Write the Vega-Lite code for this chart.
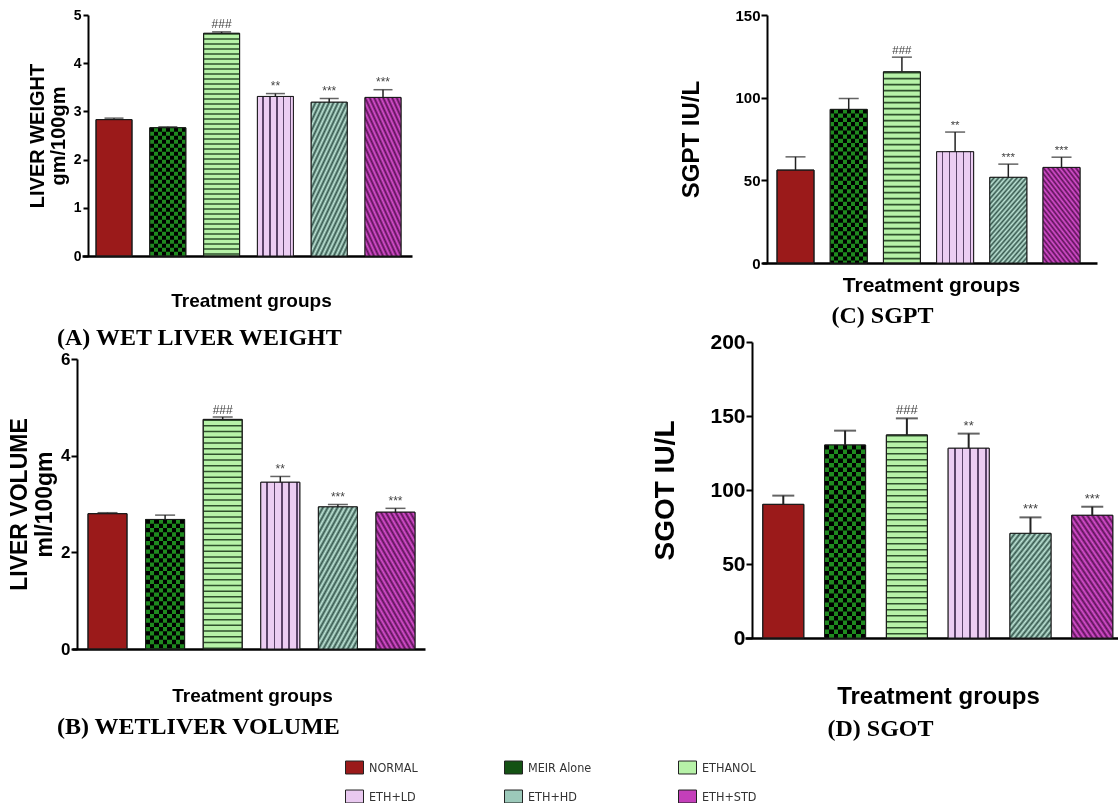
{
  "$schema": "https://vega.github.io/schema/vega-lite/v6.json",
  "background": "white",
  "padding": {"left": 8, "top": 8, "right": 0, "bottom": 0},
  "datasets": {
    "d": [
      {"panel": "A", "group": "NORMAL", "value": 2.83, "hi": 2.86, "sig": ""},
      {"panel": "A", "group": "MEIR Alone", "value": 2.66, "hi": 2.68, "sig": ""},
      {"panel": "A", "group": "ETHANOL", "value": 4.62, "hi": 4.65, "sig": "###"},
      {"panel": "A", "group": "ETH+LD", "value": 3.31, "hi": 3.37, "sig": "**"},
      {"panel": "A", "group": "ETH+HD", "value": 3.19, "hi": 3.27, "sig": "***"},
      {"panel": "A", "group": "ETH+STD", "value": 3.29, "hi": 3.45, "sig": "***"},
      {"panel": "B", "group": "NORMAL", "value": 2.8, "hi": 2.82, "sig": ""},
      {"panel": "B", "group": "MEIR Alone", "value": 2.68, "hi": 2.77, "sig": ""},
      {"panel": "B", "group": "ETHANOL", "value": 4.75, "hi": 4.8, "sig": "###"},
      {"panel": "B", "group": "ETH+LD", "value": 3.45, "hi": 3.57, "sig": "**"},
      {"panel": "B", "group": "ETH+HD", "value": 2.94, "hi": 2.99, "sig": "***"},
      {"panel": "B", "group": "ETH+STD", "value": 2.83, "hi": 2.91, "sig": "***"},
      {"panel": "C", "group": "NORMAL", "value": 56.2, "hi": 64.2, "sig": ""},
      {"panel": "C", "group": "MEIR Alone", "value": 92.9, "hi": 99.5, "sig": ""},
      {"panel": "C", "group": "ETHANOL", "value": 115.6, "hi": 124.5, "sig": "###"},
      {"panel": "C", "group": "ETH+LD", "value": 67.3, "hi": 79.2, "sig": "**"},
      {"panel": "C", "group": "ETH+HD", "value": 51.8, "hi": 59.8, "sig": "***"},
      {"panel": "C", "group": "ETH+STD", "value": 57.8, "hi": 64.0, "sig": "***"},
      {"panel": "D", "group": "NORMAL", "value": 90.3, "hi": 96.2, "sig": ""},
      {"panel": "D", "group": "MEIR Alone", "value": 130.4, "hi": 140.1, "sig": ""},
      {"panel": "D", "group": "ETHANOL", "value": 137.2, "hi": 148.4, "sig": "###"},
      {"panel": "D", "group": "ETH+LD", "value": 128.2, "hi": 138.1, "sig": "**"},
      {"panel": "D", "group": "ETH+HD", "value": 70.7, "hi": 81.5, "sig": "***"},
      {"panel": "D", "group": "ETH+STD", "value": 82.9, "hi": 88.7, "sig": "***"}
    ]
  },
  "data": {"name": "d"},
  "spacing": 226,
  "hconcat": [
    {
      "bounds": "flush",
      "spacing": 103,
      "vconcat": [
        {
          "width": 330, "height": 241,
          "transform": [{"filter": "datum.panel === 'A'"}],
          "title": {"text": "(A)  WET LIVER WEIGHT", "orient": "bottom", "anchor": "start", "frame": "group", "dx": -15, "offset": 26, "font": "Liberation Serif", "fontSize": 24, "fontWeight": "bold", "color": "#000"},
          "encoding": {
            "x": {"field": "group", "type": "nominal", "sort": ["NORMAL", "MEIR Alone", "ETHANOL", "ETH+LD", "ETH+HD", "ETH+STD"], "scale": {"paddingInner": 0.331, "paddingOuter": 0.2325, "align": 0.96}, "axis": {"labels": false, "ticks": false, "domainWidth": 2.5, "translate": 10.5, "offset": -10, "title": "Treatment groups", "titleFontSize": 19, "titlePadding": 35, "titleX": 169}},
            "y": {"field": "value", "type": "quantitative", "scale": {"domain": [0, 5], "nice": false}, "axis": {"values": [0, 1, 2, 3, 4, 5], "offset": -16, "domainWidth": 2, "tickWidth": 2, "tickSize": 5, "labelPadding": 2, "labelFontSize": 14, "title": ["LIVER WEIGHT", "gm/100gm"], "titleFontSize": 20, "titleLineHeight": 21, "titlePadding": 5}}
          },
          "layer": [
            {"mark": {"type": "bar", "stroke": "#1a1a1a", "strokeWidth": 1}, "encoding": {"color": {"field": "group", "type": "nominal", "scale": {"domain": ["NORMAL", "MEIR Alone", "ETHANOL", "ETH+LD", "ETH+HD", "ETH+STD"], "range": ["#9b1a1a", "#145214", "#b7f2a8", "#e9c9f0", "#9cc9ba", "#c43fba"]}, "legend": {"orient": "none", "legendX": 273, "legendY": 743, "direction": "horizontal", "columns": 3, "title": null, "symbolType": "M-1,-0.72H1V0.72H-1Z", "symbolSize": 324, "symbolStrokeColor": "#222", "symbolStrokeWidth": 1, "labelFont": "Liberation Sans Narrow, DejaVu Sans Condensed, Liberation Sans, sans-serif", "labelFontSize": 12.5, "labelColor": "#333", "labelOffset": 5, "columnPadding": 84, "rowPadding": 11, "gridAlign": "each"}}}},
            {"transform": [{"filter": "datum.group === 'MEIR Alone'"}], "mark": {"type": "bar", "fill": "#000"}},
            {"transform": [{"filter": "datum.group === 'MEIR Alone'"}], "mark": {"type": "rule", "stroke": "#1f8a1f", "strokeWidth": 36, "strokeDash": [4, 4], "strokeCap": "butt"}, "encoding": {"y2": {"datum": 0}}},
            {"transform": [{"filter": "datum.group === 'MEIR Alone'"}], "mark": {"type": "bar", "style": "checkv", "blend": "difference"}},
            {"transform": [{"filter": "datum.group === 'ETHANOL'"}], "mark": {"type": "rule", "stroke": "#2f512c", "strokeWidth": 36, "strokeDash": [1.4, 3.6], "strokeCap": "butt"}, "encoding": {"y2": {"datum": 0}}},
            {"transform": [{"filter": "datum.group === 'ETH+LD'"}], "mark": {"type": "bar", "style": "vstripe"}},
            {"transform": [{"filter": "datum.group === 'ETH+HD'"}], "mark": {"type": "bar", "style": "diagHD"}},
            {"transform": [{"filter": "datum.group === 'ETH+STD'"}], "mark": {"type": "bar", "style": "diagSTD"}},
            {"mark": {"type": "bar", "fillOpacity": 0, "stroke": "#1a1a1a", "strokeWidth": 1}},
            {"mark": {"type": "rule", "stroke": "#222", "strokeWidth": 1.5}, "encoding": {"y": {"field": "hi", "type": "quantitative"}, "y2": {"field": "value"}}},
            {"mark": {"type": "tick", "color": "#222", "thickness": 1.5, "size": 19}, "encoding": {"y": {"field": "hi", "type": "quantitative"}}},
            {"mark": {"type": "text", "dy": -3.5, "baseline": "alphabetic", "font": "Liberation Sans", "fontSize": 12, "color": "#444"}, "encoding": {"y": {"field": "hi", "type": "quantitative"}, "text": {"field": "sig"}}}
          ]
        },
        {
          "width": 353, "height": 290,
          "transform": [{"filter": "datum.panel === 'B'"}],
          "title": {"text": "(B)  WETLIVER VOLUME", "orient": "bottom", "anchor": "start", "frame": "group", "dx": -15, "offset": 10, "font": "Liberation Serif", "fontSize": 24, "fontWeight": "bold", "color": "#000"},
          "encoding": {
            "x": {"field": "group", "type": "nominal", "sort": ["NORMAL", "MEIR Alone", "ETHANOL", "ETH+LD", "ETH+HD", "ETH+STD"], "scale": {"paddingInner": 0.323, "paddingOuter": 0.226, "align": 0.615}, "axis": {"labels": false, "ticks": false, "domainWidth": 2.5, "title": "Treatment groups", "titleFontSize": 19, "titlePadding": 37, "titleX": 180}},
            "y": {"field": "value", "type": "quantitative", "scale": {"domain": [0, 6], "nice": false}, "axis": {"values": [0, 2, 4, 6], "offset": -5, "domainWidth": 2, "tickWidth": 2, "tickSize": 6, "labelPadding": 1, "labelFontSize": 17, "title": ["LIVER VOLUME", "ml/100gm"], "titleFontSize": 23, "titleLineHeight": 25, "titlePadding": 4}}
          },
          "layer": [
            {"mark": {"type": "bar", "stroke": "#1a1a1a", "strokeWidth": 1}, "encoding": {"color": {"field": "group", "type": "nominal", "scale": {"domain": ["NORMAL", "MEIR Alone", "ETHANOL", "ETH+LD", "ETH+HD", "ETH+STD"], "range": ["#9b1a1a", "#145214", "#b7f2a8", "#e9c9f0", "#9cc9ba", "#c43fba"]}, "legend": {"orient": "none", "legendX": 273, "legendY": 743, "direction": "horizontal", "columns": 3, "title": null, "symbolType": "M-1,-0.72H1V0.72H-1Z", "symbolSize": 324, "symbolStrokeColor": "#222", "symbolStrokeWidth": 1, "labelFont": "Liberation Sans Narrow, DejaVu Sans Condensed, Liberation Sans, sans-serif", "labelFontSize": 12.5, "labelColor": "#333", "labelOffset": 5, "columnPadding": 84, "rowPadding": 11, "gridAlign": "each"}}}},
            {"transform": [{"filter": "datum.group === 'MEIR Alone'"}], "mark": {"type": "bar", "fill": "#000"}},
            {"transform": [{"filter": "datum.group === 'MEIR Alone'"}], "mark": {"type": "rule", "stroke": "#1f8a1f", "strokeWidth": 39, "strokeDash": [4.3, 4.3], "strokeCap": "butt"}, "encoding": {"y2": {"datum": 0}}},
            {"transform": [{"filter": "datum.group === 'MEIR Alone'"}], "mark": {"type": "bar", "style": "checkv", "blend": "difference"}},
            {"transform": [{"filter": "datum.group === 'ETHANOL'"}], "mark": {"type": "rule", "stroke": "#2f512c", "strokeWidth": 39, "strokeDash": [1.5, 4.2], "strokeCap": "butt"}, "encoding": {"y2": {"datum": 0}}},
            {"transform": [{"filter": "datum.group === 'ETH+LD'"}], "mark": {"type": "bar", "style": "vstripe"}},
            {"transform": [{"filter": "datum.group === 'ETH+HD'"}], "mark": {"type": "bar", "style": "diagHD"}},
            {"transform": [{"filter": "datum.group === 'ETH+STD'"}], "mark": {"type": "bar", "style": "diagSTD"}},
            {"mark": {"type": "bar", "fillOpacity": 0, "stroke": "#1a1a1a", "strokeWidth": 1}},
            {"mark": {"type": "rule", "stroke": "#222", "strokeWidth": 1.5}, "encoding": {"y": {"field": "hi", "type": "quantitative"}, "y2": {"field": "value"}}},
            {"mark": {"type": "tick", "color": "#222", "thickness": 1.5, "size": 20}, "encoding": {"y": {"field": "hi", "type": "quantitative"}}},
            {"mark": {"type": "text", "dy": -3.5, "baseline": "alphabetic", "font": "Liberation Sans", "fontSize": 12, "color": "#444"}, "encoding": {"y": {"field": "hi", "type": "quantitative"}, "text": {"field": "sig"}}}
          ]
        }
      ]
    },
    {
      "bounds": "flush",
      "spacing": 79,
      "vconcat": [
        {
          "width": 335, "height": 248,
          "transform": [{"filter": "datum.panel === 'C'"}],
          "title": {"text": "(C)  SGPT", "orient": "bottom", "anchor": "middle", "frame": "group", "dx": -30, "offset": 22, "font": "Liberation Serif", "fontSize": 24, "fontWeight": "bold", "color": "#000"},
          "encoding": {
            "x": {"field": "group", "type": "nominal", "sort": ["NORMAL", "MEIR Alone", "ETHANOL", "ETH+LD", "ETH+HD", "ETH+STD"], "scale": {"paddingInner": 0.305, "paddingOuter": 0.301, "align": 1}, "axis": {"labels": false, "ticks": false, "domainWidth": 2.5, "translate": 17.5, "offset": -17, "title": "Treatment groups", "titleFontSize": 21, "titlePadding": 11, "titleX": 169}},
            "y": {"field": "value", "type": "quantitative", "scale": {"domain": [0, 150], "nice": false}, "axis": {"values": [0, 50, 100, 150], "offset": -22, "domainWidth": 2, "tickWidth": 2, "tickSize": 6, "labelPadding": 1, "labelFontSize": 15, "title": "SGPT IU/L", "titleFontSize": 24, "titlePadding": 31}}
          },
          "layer": [
            {"mark": {"type": "bar", "stroke": "#1a1a1a", "strokeWidth": 1}, "encoding": {"color": {"field": "group", "type": "nominal", "scale": {"domain": ["NORMAL", "MEIR Alone", "ETHANOL", "ETH+LD", "ETH+HD", "ETH+STD"], "range": ["#9b1a1a", "#145214", "#b7f2a8", "#e9c9f0", "#9cc9ba", "#c43fba"]}, "legend": {"orient": "none", "legendX": 273, "legendY": 743, "direction": "horizontal", "columns": 3, "title": null, "symbolType": "M-1,-0.72H1V0.72H-1Z", "symbolSize": 324, "symbolStrokeColor": "#222", "symbolStrokeWidth": 1, "labelFont": "Liberation Sans Narrow, DejaVu Sans Condensed, Liberation Sans, sans-serif", "labelFontSize": 12.5, "labelColor": "#333", "labelOffset": 5, "columnPadding": 84, "rowPadding": 11, "gridAlign": "each"}}}},
            {"transform": [{"filter": "datum.group === 'MEIR Alone'"}], "mark": {"type": "bar", "fill": "#000"}},
            {"transform": [{"filter": "datum.group === 'MEIR Alone'"}], "mark": {"type": "rule", "stroke": "#1f8a1f", "strokeWidth": 37, "strokeDash": [4.2, 4.2], "strokeCap": "butt"}, "encoding": {"y2": {"datum": 0}}},
            {"transform": [{"filter": "datum.group === 'MEIR Alone'"}], "mark": {"type": "bar", "style": "checkv", "blend": "difference"}},
            {"transform": [{"filter": "datum.group === 'ETHANOL'"}], "mark": {"type": "rule", "stroke": "#2f512c", "strokeWidth": 37, "strokeDash": [1.6, 4.4], "strokeCap": "butt"}, "encoding": {"y2": {"datum": 0}}},
            {"transform": [{"filter": "datum.group === 'ETH+LD'"}], "mark": {"type": "bar", "style": "vstripe"}},
            {"transform": [{"filter": "datum.group === 'ETH+HD'"}], "mark": {"type": "bar", "style": "diagHD"}},
            {"transform": [{"filter": "datum.group === 'ETH+STD'"}], "mark": {"type": "bar", "style": "diagSTD"}},
            {"mark": {"type": "bar", "fillOpacity": 0, "stroke": "#1a1a1a", "strokeWidth": 1}},
            {"mark": {"type": "rule", "stroke": "#222", "strokeWidth": 1.5}, "encoding": {"y": {"field": "hi", "type": "quantitative"}, "y2": {"field": "value"}}},
            {"mark": {"type": "tick", "color": "#222", "thickness": 1.5, "size": 20}, "encoding": {"y": {"field": "hi", "type": "quantitative"}}},
            {"mark": {"type": "text", "dy": -3.5, "baseline": "alphabetic", "font": "Liberation Sans", "fontSize": 11.5, "color": "#444"}, "encoding": {"y": {"field": "hi", "type": "quantitative"}, "text": {"field": "sig"}}}
          ]
        },
        {
          "width": 373, "height": 296,
          "transform": [{"filter": "datum.panel === 'D'"}],
          "title": {"text": "(D)  SGOT", "orient": "bottom", "anchor": "middle", "frame": "group", "dx": -51, "offset": 9, "font": "Liberation Serif", "fontSize": 24, "fontWeight": "bold", "color": "#000"},
          "encoding": {
            "x": {"field": "group", "type": "nominal", "sort": ["NORMAL", "MEIR Alone", "ETHANOL", "ETH+LD", "ETH+HD", "ETH+STD"], "scale": {"paddingInner": 0.336, "paddingOuter": 0.186, "align": 0.773}, "axis": {"labels": false, "ticks": false, "domainWidth": 2.5, "title": "Treatment groups", "titleFontSize": 24, "titlePadding": 46, "titleX": 193}},
            "y": {"field": "value", "type": "quantitative", "scale": {"domain": [0, 200], "nice": false}, "axis": {"values": [0, 50, 100, 150, 200], "offset": -7, "domainWidth": 2, "tickWidth": 2, "tickSize": 6, "labelPadding": 1, "labelFontSize": 21, "title": "SGOT IU/L", "titleFontSize": 28, "titlePadding": 30}}
          },
          "layer": [
            {"mark": {"type": "bar", "stroke": "#1a1a1a", "strokeWidth": 1}, "encoding": {"color": {"field": "group", "type": "nominal", "scale": {"domain": ["NORMAL", "MEIR Alone", "ETHANOL", "ETH+LD", "ETH+HD", "ETH+STD"], "range": ["#9b1a1a", "#145214", "#b7f2a8", "#e9c9f0", "#9cc9ba", "#c43fba"]}, "legend": {"orient": "none", "legendX": 273, "legendY": 743, "direction": "horizontal", "columns": 3, "title": null, "symbolType": "M-1,-0.72H1V0.72H-1Z", "symbolSize": 324, "symbolStrokeColor": "#222", "symbolStrokeWidth": 1, "labelFont": "Liberation Sans Narrow, DejaVu Sans Condensed, Liberation Sans, sans-serif", "labelFontSize": 12.5, "labelColor": "#333", "labelOffset": 5, "columnPadding": 84, "rowPadding": 11, "gridAlign": "each"}}}},
            {"transform": [{"filter": "datum.group === 'MEIR Alone'"}], "mark": {"type": "bar", "fill": "#000"}},
            {"transform": [{"filter": "datum.group === 'MEIR Alone'"}], "mark": {"type": "rule", "stroke": "#1f8a1f", "strokeWidth": 41, "strokeDash": [4.5, 4.5], "strokeCap": "butt"}, "encoding": {"y2": {"datum": 0}}},
            {"transform": [{"filter": "datum.group === 'MEIR Alone'"}], "mark": {"type": "bar", "style": "checkv", "blend": "difference"}},
            {"transform": [{"filter": "datum.group === 'ETHANOL'"}], "mark": {"type": "rule", "stroke": "#2f512c", "strokeWidth": 41, "strokeDash": [1.6, 4.4], "strokeCap": "butt"}, "encoding": {"y2": {"datum": 0}}},
            {"transform": [{"filter": "datum.group === 'ETH+LD'"}], "mark": {"type": "bar", "style": "vstripe"}},
            {"transform": [{"filter": "datum.group === 'ETH+HD'"}], "mark": {"type": "bar", "style": "diagHD"}},
            {"transform": [{"filter": "datum.group === 'ETH+STD'"}], "mark": {"type": "bar", "style": "diagSTD"}},
            {"mark": {"type": "bar", "fillOpacity": 0, "stroke": "#1a1a1a", "strokeWidth": 1}},
            {"mark": {"type": "rule", "stroke": "#222", "strokeWidth": 2}, "encoding": {"y": {"field": "hi", "type": "quantitative"}, "y2": {"field": "value"}}},
            {"mark": {"type": "tick", "color": "#222", "thickness": 2, "size": 22}, "encoding": {"y": {"field": "hi", "type": "quantitative"}}},
            {"mark": {"type": "text", "dy": -4, "baseline": "alphabetic", "font": "Liberation Sans", "fontSize": 13, "color": "#444"}, "encoding": {"y": {"field": "hi", "type": "quantitative"}, "text": {"field": "sig"}}}
          ]
        }
      ]
    }
  ],
  "config": {
    "view": {"stroke": null},
    "axis": {"grid": false, "domainColor": "#000", "tickColor": "#000", "labelColor": "#000", "titleColor": "#000", "labelFont": "Liberation Sans", "titleFont": "Liberation Sans", "labelFontWeight": "bold", "titleFontWeight": "bold"},
    "style": {
      "vstripe": {"color": {"gradient": "linear", "x1": 0, "y1": 0, "x2": 1, "y2": 0, "stops": [
        {"offset": 0, "color": "#eccdf2"}, {"offset": 0.137, "color": "#eccdf2"}, {"offset": 0.137, "color": "#5b4468"}, {"offset": 0.179, "color": "#5b4468"}, {"offset": 0.179, "color": "#eccdf2"},
        {"offset": 0.328, "color": "#eccdf2"}, {"offset": 0.328, "color": "#5b4468"}, {"offset": 0.37, "color": "#5b4468"}, {"offset": 0.37, "color": "#eccdf2"},
        {"offset": 0.518, "color": "#eccdf2"}, {"offset": 0.518, "color": "#5b4468"}, {"offset": 0.56, "color": "#5b4468"}, {"offset": 0.56, "color": "#eccdf2"},
        {"offset": 0.709, "color": "#eccdf2"}, {"offset": 0.709, "color": "#5b4468"}, {"offset": 0.751, "color": "#5b4468"}, {"offset": 0.751, "color": "#eccdf2"},
        {"offset": 0.9, "color": "#eccdf2"}, {"offset": 0.9, "color": "#5b4468"}, {"offset": 0.942, "color": "#5b4468"}, {"offset": 0.942, "color": "#eccdf2"}, {"offset": 1, "color": "#eccdf2"}]}},
      "checkv": {"color": {"gradient": "linear", "x1": 0, "y1": 0, "x2": 1, "y2": 0, "stops": [
        {"offset": 0, "color": "#1f8a1f"}, {"offset": 0.1111, "color": "#1f8a1f"}, {"offset": 0.1111, "color": "#000000"}, {"offset": 0.2222, "color": "#000000"},
        {"offset": 0.2222, "color": "#1f8a1f"}, {"offset": 0.3333, "color": "#1f8a1f"}, {"offset": 0.3333, "color": "#000000"}, {"offset": 0.4444, "color": "#000000"},
        {"offset": 0.4444, "color": "#1f8a1f"}, {"offset": 0.5556, "color": "#1f8a1f"}, {"offset": 0.5556, "color": "#000000"}, {"offset": 0.6667, "color": "#000000"},
        {"offset": 0.6667, "color": "#1f8a1f"}, {"offset": 0.7778, "color": "#1f8a1f"}, {"offset": 0.7778, "color": "#000000"}, {"offset": 0.8889, "color": "#000000"},
        {"offset": 0.8889, "color": "#1f8a1f"}, {"offset": 1, "color": "#1f8a1f"}]}},
      "diagHD": {"color": {"gradient": "linear", "x1": 0, "y1": 0, "x2": 0.6, "y2": 1.2, "stops": [
        {"offset": 0, "color": "#35574d"}, {"offset": 0.0208, "color": "#bfe6d8"}, {"offset": 0.0417, "color": "#35574d"}, {"offset": 0.0625, "color": "#bfe6d8"},
        {"offset": 0.0833, "color": "#35574d"}, {"offset": 0.1042, "color": "#bfe6d8"}, {"offset": 0.125, "color": "#35574d"}, {"offset": 0.1458, "color": "#bfe6d8"},
        {"offset": 0.1667, "color": "#35574d"}, {"offset": 0.1875, "color": "#bfe6d8"}, {"offset": 0.2083, "color": "#35574d"}, {"offset": 0.2292, "color": "#bfe6d8"},
        {"offset": 0.25, "color": "#35574d"}, {"offset": 0.2708, "color": "#bfe6d8"}, {"offset": 0.2917, "color": "#35574d"}, {"offset": 0.3125, "color": "#bfe6d8"},
        {"offset": 0.3333, "color": "#35574d"}, {"offset": 0.3542, "color": "#bfe6d8"}, {"offset": 0.375, "color": "#35574d"}, {"offset": 0.3958, "color": "#bfe6d8"},
        {"offset": 0.4167, "color": "#35574d"}, {"offset": 0.4375, "color": "#bfe6d8"}, {"offset": 0.4583, "color": "#35574d"}, {"offset": 0.4792, "color": "#bfe6d8"},
        {"offset": 0.5, "color": "#35574d"}, {"offset": 0.5208, "color": "#bfe6d8"}, {"offset": 0.5417, "color": "#35574d"}, {"offset": 0.5625, "color": "#bfe6d8"},
        {"offset": 0.5833, "color": "#35574d"}, {"offset": 0.6042, "color": "#bfe6d8"}, {"offset": 0.625, "color": "#35574d"}, {"offset": 0.6458, "color": "#bfe6d8"},
        {"offset": 0.6667, "color": "#35574d"}, {"offset": 0.6875, "color": "#bfe6d8"}, {"offset": 0.7083, "color": "#35574d"}, {"offset": 0.7292, "color": "#bfe6d8"},
        {"offset": 0.75, "color": "#35574d"}, {"offset": 0.7708, "color": "#bfe6d8"}, {"offset": 0.7917, "color": "#35574d"}, {"offset": 0.8125, "color": "#bfe6d8"},
        {"offset": 0.8333, "color": "#35574d"}, {"offset": 0.8542, "color": "#bfe6d8"}, {"offset": 0.875, "color": "#35574d"}, {"offset": 0.8958, "color": "#bfe6d8"},
        {"offset": 0.9167, "color": "#35574d"}, {"offset": 0.9375, "color": "#bfe6d8"}, {"offset": 0.9583, "color": "#35574d"}, {"offset": 0.9792, "color": "#bfe6d8"},
        {"offset": 1, "color": "#35574d"}]}},
      "diagSTD": {"color": {"gradient": "linear", "x1": 0, "y1": 1, "x2": 0.6, "y2": -0.2, "stops": [
        {"offset": 0, "color": "#5c1257"}, {"offset": 0.0208, "color": "#d94fd0"}, {"offset": 0.0417, "color": "#5c1257"}, {"offset": 0.0625, "color": "#d94fd0"},
        {"offset": 0.0833, "color": "#5c1257"}, {"offset": 0.1042, "color": "#d94fd0"}, {"offset": 0.125, "color": "#5c1257"}, {"offset": 0.1458, "color": "#d94fd0"},
        {"offset": 0.1667, "color": "#5c1257"}, {"offset": 0.1875, "color": "#d94fd0"}, {"offset": 0.2083, "color": "#5c1257"}, {"offset": 0.2292, "color": "#d94fd0"},
        {"offset": 0.25, "color": "#5c1257"}, {"offset": 0.2708, "color": "#d94fd0"}, {"offset": 0.2917, "color": "#5c1257"}, {"offset": 0.3125, "color": "#d94fd0"},
        {"offset": 0.3333, "color": "#5c1257"}, {"offset": 0.3542, "color": "#d94fd0"}, {"offset": 0.375, "color": "#5c1257"}, {"offset": 0.3958, "color": "#d94fd0"},
        {"offset": 0.4167, "color": "#5c1257"}, {"offset": 0.4375, "color": "#d94fd0"}, {"offset": 0.4583, "color": "#5c1257"}, {"offset": 0.4792, "color": "#d94fd0"},
        {"offset": 0.5, "color": "#5c1257"}, {"offset": 0.5208, "color": "#d94fd0"}, {"offset": 0.5417, "color": "#5c1257"}, {"offset": 0.5625, "color": "#d94fd0"},
        {"offset": 0.5833, "color": "#5c1257"}, {"offset": 0.6042, "color": "#d94fd0"}, {"offset": 0.625, "color": "#5c1257"}, {"offset": 0.6458, "color": "#d94fd0"},
        {"offset": 0.6667, "color": "#5c1257"}, {"offset": 0.6875, "color": "#d94fd0"}, {"offset": 0.7083, "color": "#5c1257"}, {"offset": 0.7292, "color": "#d94fd0"},
        {"offset": 0.75, "color": "#5c1257"}, {"offset": 0.7708, "color": "#d94fd0"}, {"offset": 0.7917, "color": "#5c1257"}, {"offset": 0.8125, "color": "#d94fd0"},
        {"offset": 0.8333, "color": "#5c1257"}, {"offset": 0.8542, "color": "#d94fd0"}, {"offset": 0.875, "color": "#5c1257"}, {"offset": 0.8958, "color": "#d94fd0"},
        {"offset": 0.9167, "color": "#5c1257"}, {"offset": 0.9375, "color": "#d94fd0"}, {"offset": 0.9583, "color": "#5c1257"}, {"offset": 0.9792, "color": "#d94fd0"},
        {"offset": 1, "color": "#5c1257"}]}}
    }
  }
}
